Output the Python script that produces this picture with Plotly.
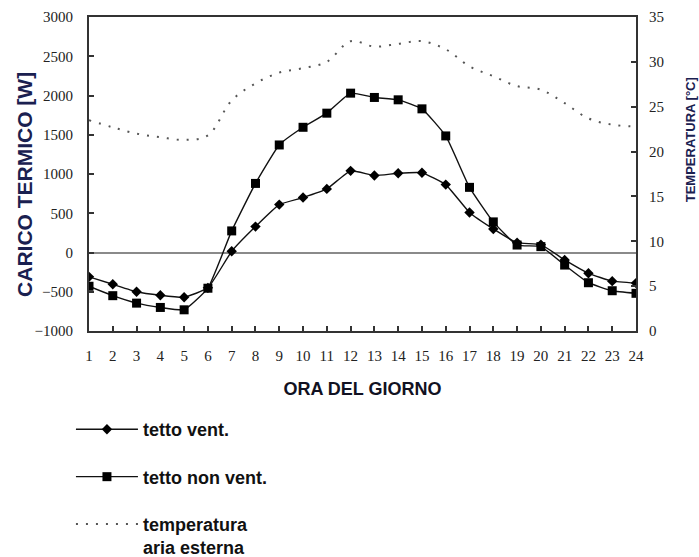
import plotly.graph_objects as go

hours = list(range(1, 25))
tetto_vent = [-310, -405, -500, -545, -570, -450, 15, 330, 610, 700, 810, 1040,
              980, 1010, 1015, 865, 510, 300, 125, 100, -95, -265, -365, -390]
tetto_non_vent = [-430, -550, -645, -700, -730, -455, 275, 880, 1370, 1595, 1775, 2030,
                  1975, 1945, 1830, 1485, 830, 390, 95, 75, -160, -385, -487, -520]
temperatura = [23.5, 22.7, 22.0, 21.6, 21.3, 21.8, 25.7, 27.6, 28.8, 29.3, 30.0, 32.3,
               31.7, 32.0, 32.3, 31.4, 29.5, 28.4, 27.3, 26.9, 25.4, 23.7, 23.0, 22.8]

left_ticks = list(range(-1000, 3001, 500))
right_ticks = list(range(0, 36, 5))

fig = go.Figure()
fig.add_trace(go.Scatter(
    x=hours, y=tetto_vent, name="tetto vent.", mode="lines+markers", legendgroup="a",
    line=dict(color="#111111", width=1.4, shape="spline", smoothing=0.4),
    marker=dict(symbol="diamond", size=8, color="#000000"),
))
fig.add_trace(go.Scatter(
    x=hours, y=tetto_non_vent, name="tetto non vent.", mode="lines+markers", legendgroup="b",
    line=dict(color="#111111", width=1.4, shape="spline", smoothing=0.4),
    marker=dict(symbol="square", size=9, color="#000000"),
))
fig.add_trace(go.Scatter(
    x=hours, y=temperatura, name="temperatura<br>aria esterna", mode="lines",
    yaxis="y2", legendgroup="c",
    line=dict(color="#555555", width=2, dash="2px,8px", shape="spline", smoothing=1.0),
))

tickfont = dict(family="Liberation Serif", size=15, color="#222222")
fig.update_layout(
    width=699, height=557,
    margin=dict(l=89, r=63, t=17, b=226, autoexpand=False),
    paper_bgcolor="white", plot_bgcolor="white",
    showlegend=True,
    legend=dict(
        x=-0.033, y=-0.255, xanchor="left", yanchor="top",
        font=dict(family="Liberation Sans", size=18, color="#111111", weight="bold"),
        itemwidth=62, tracegroupgap=21, traceorder="grouped", valign="top",
        bgcolor="rgba(0,0,0,0)",
    ),
    xaxis=dict(
        range=[1, 24], tickvals=hours, ticks="inside", ticklen=5, tickwidth=1.5,
        tickcolor="#333333", showline=True, linecolor="#333333", linewidth=2,
        mirror=True, showgrid=False, zeroline=False, tickfont=tickfont,
        ticklabelstandoff=10,
        title=dict(text="ORA DEL GIORNO", standoff=19,
                   font=dict(family="Liberation Sans", size=18, color="#111122", weight="bold")),
    ),
    yaxis=dict(
        range=[-1000, 3000], tickvals=left_ticks, ticks="inside", ticklen=5, tickwidth=1.5,
        tickcolor="#333333", showline=True, linecolor="#333333", linewidth=2,
        showgrid=False, zeroline=True, zerolinecolor="#8a8a8a", zerolinewidth=2,
        tickfont=tickfont, ticklabelstandoff=11,
    ),
    yaxis2=dict(
        range=[0, 35], tickvals=right_ticks, overlaying="y", side="right",
        ticks="inside", ticklen=5, tickwidth=1.5, tickcolor="#333333",
        showline=True, linecolor="#333333", linewidth=2, showgrid=False,
        zeroline=False, tickfont=tickfont, ticklabelstandoff=8,
    ),
    annotations=[
        dict(text="CARICO TERMICO [W]", textangle=-90, xref="paper", yref="paper",
             x=-0.119, y=0.468, xanchor="center", yanchor="middle", showarrow=False,
             font=dict(family="Liberation Sans", size=21, color="#1a2050", weight="bold")),
        dict(text="TEMPERATURA [°C]", textangle=-90, xref="paper", yref="paper",
             x=1.099, y=0.608, xanchor="center", yanchor="middle", showarrow=False,
             font=dict(family="Liberation Sans", size=13, color="#1a2050", weight="bold")),
    ],
)

fig.write_html("out.html", config={"displayModeBar": False},
               post_script="document.body.style.margin='0';")
